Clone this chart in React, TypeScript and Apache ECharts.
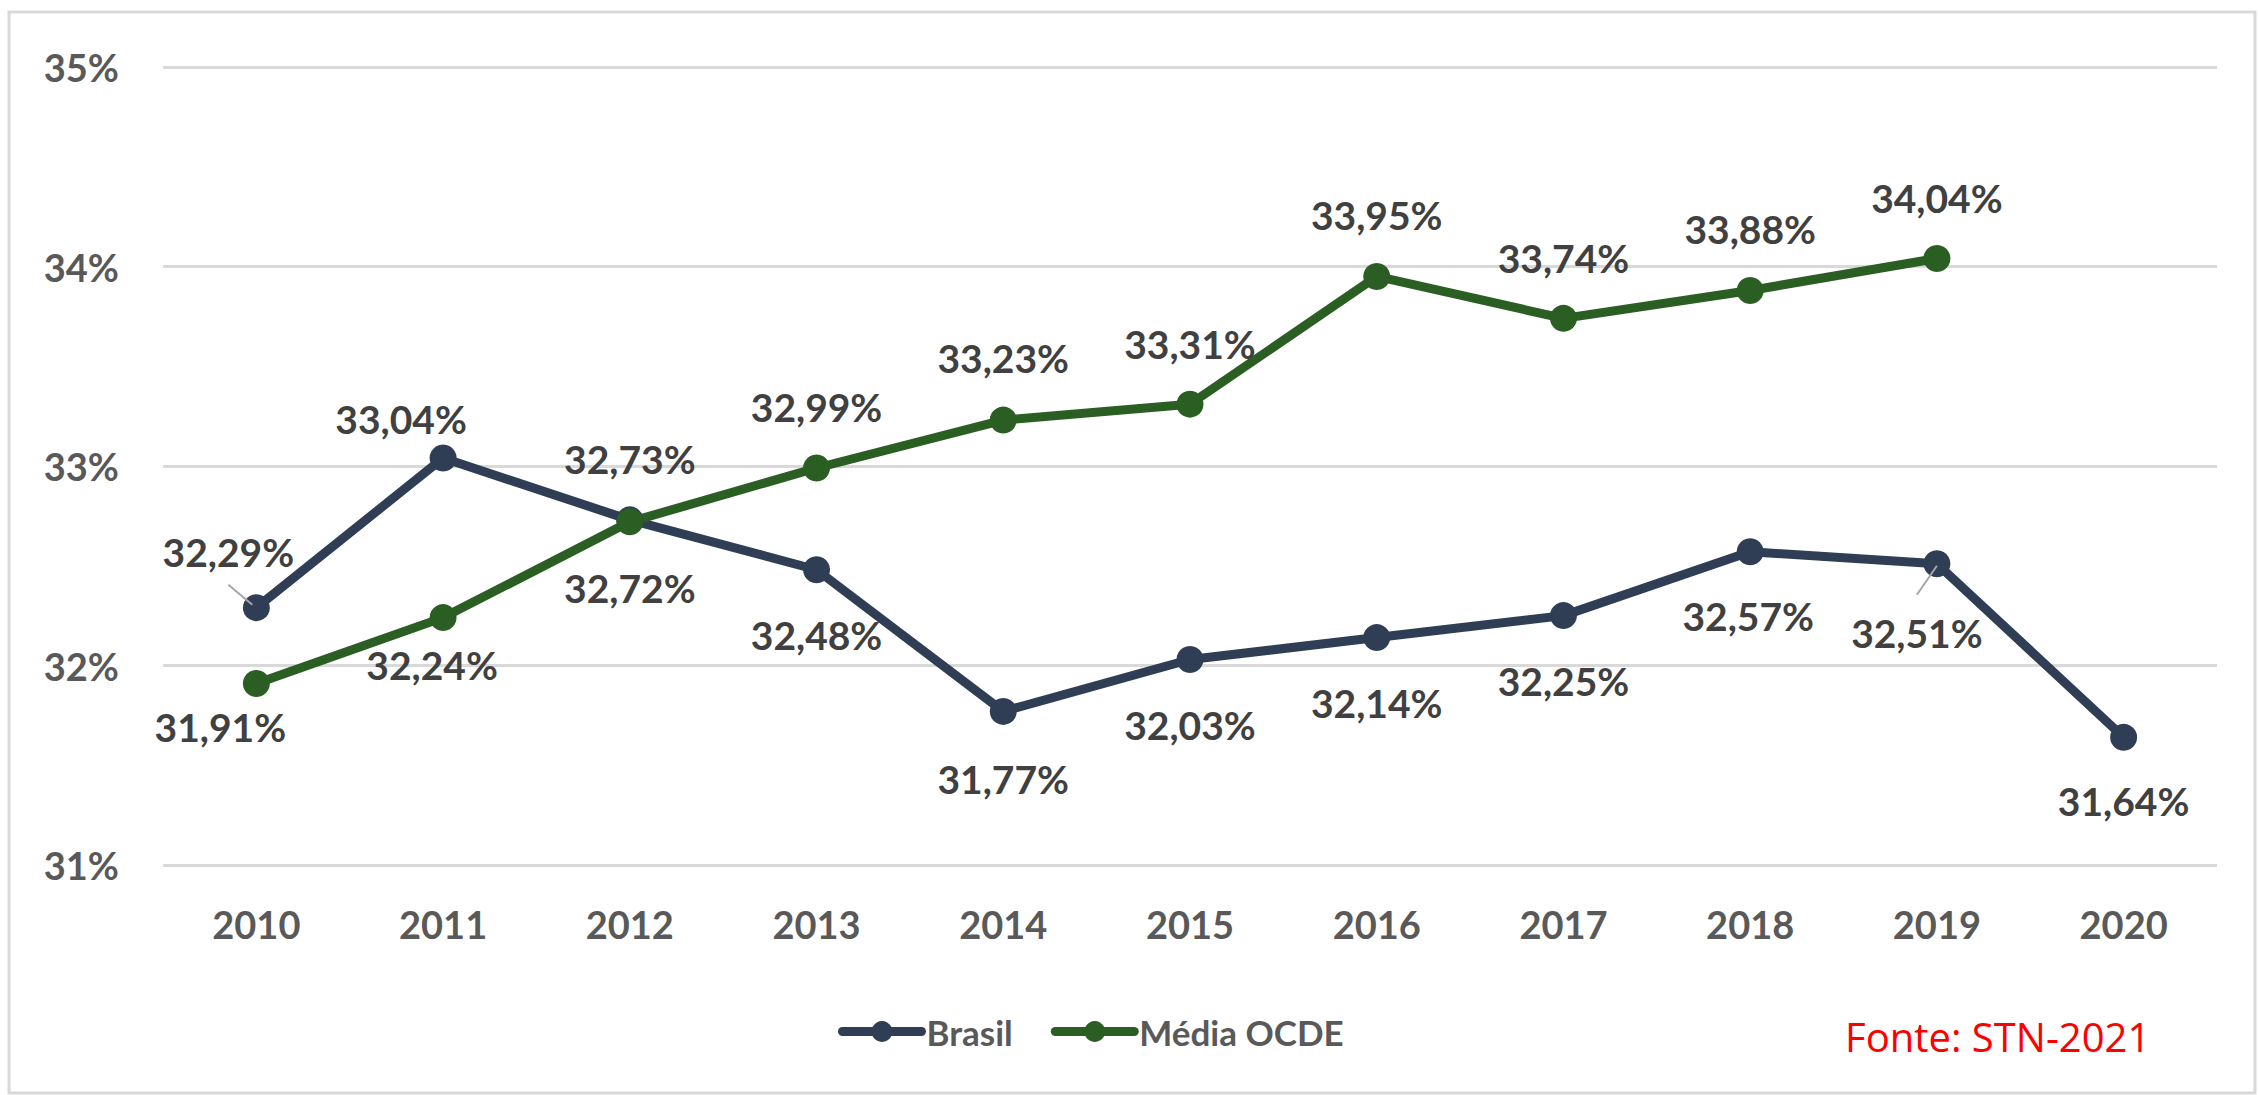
import React, { useEffect, useRef } from "react";
import * as echarts from "echarts";

const years = ["2010", "2011", "2012", "2013", "2014", "2015", "2016", "2017", "2018", "2019", "2020"];
const brasil = [32.29, 33.04, 32.73, 32.48, 31.77, 32.03, 32.14, 32.25, 32.57, 32.51, 31.64];
const ocde = [31.91, 32.24, 32.72, 32.99, 33.23, 33.31, 33.95, 33.74, 33.88, 34.04, null];
const seriesNames = ["Brasil", "Média OCDE"];
const yMin = 31;
const yMax = 35;
const yStep = 1;
const sourceText = "Fonte: STN-2021";

// label offsets (label centre relative to point)
const brasilLabelOffsets = [
  [-28, -56], [-42, -39], [0, -61], [0, 65], [0, 68], [0, 65], [0, 65], [0, 65], [-2, 64], [-20, 69], [0, 64],
];
const ocdeLabelOffsets = [
  [-36, 44], [-11, 47], [0, 66], [0, -61], [0, -62], [0, -60], [0, -61], [0, -60], [0, -61], [0, -61], [0, 0],
];
// leader lines: [index, dx1, dy1, dx2, dy2] relative to point
const brasilLeaders = [
  [0, -28, -23, -4, -3],
  [9, -20, 31, 0, 2],
];

const BRASIL_COLOR = "#2F3E55";
const OCDE_COLOR = "#2B5E23";
const FONT = "Lato";
const LINE_W = 9;

const fmt = (v: number) => v.toFixed(2).replace(".", ",") + "%";

export default function App() {
  const ref = useRef<HTMLDivElement>(null);
  useEffect(() => {
    const chart = echarts.init(ref.current!, undefined, { renderer: "svg" });
    const mk = (vals: (number | null)[], offs: number[][]) =>
      vals.map((v, i) => ({
        value: v,
        label: { offset: offs[i] },
      }));
    const labelStyle = {
      show: true,
      position: "inside",
      fontFamily: FONT,
      fontWeight: "bold",
      fontSize: 39,
      color: "#404040",
    };
    chart.setOption({
      animation: false,
      backgroundColor: "#ffffff",
      grid: { left: 163, right: 42, top: 67, bottom: 230 },
      legend: {
        left: 833,
        top: 1009,
        itemWidth: 79,
        itemHeight: 26,
        itemGap: 38,
        lineStyle: { width: 9, cap: "round" },
        textStyle: { fontFamily: FONT, fontWeight: "bold", fontSize: 35, color: "#595959" },
        data: seriesNames,
      },
      xAxis: {
        type: "category",
        data: years,
        boundaryGap: true,
        axisLine: { show: false },
        axisTick: { show: false },
        axisLabel: {
          margin: 40,
          fontFamily: FONT,
          fontWeight: "bold",
          fontSize: 38,
          color: "#595959",
        },
      },
      yAxis: {
        type: "value",
        min: yMin,
        max: yMax,
        interval: yStep,
        axisLine: { show: false },
        axisTick: { show: false },
        splitLine: { lineStyle: { color: "#D9D9D9", width: 3 } },
        axisLabel: {
          margin: 44,
          fontFamily: FONT,
          fontWeight: "bold",
          fontSize: 38,
          color: "#595959",
          formatter: (v: number) => `${v}%`,
        },
      },
      series: [
        {
          name: seriesNames[0],
          type: "line",
          data: mk(brasil, brasilLabelOffsets),
          symbol: "circle",
          symbolSize: 27,
          lineStyle: { width: LINE_W, color: BRASIL_COLOR, cap: "round" },
          itemStyle: { color: BRASIL_COLOR },
          label: { ...labelStyle, formatter: (p: any) => fmt(p.value) },
        },
        {
          name: seriesNames[1],
          type: "line",
          data: mk(ocde, ocdeLabelOffsets),
          symbol: "circle",
          symbolSize: 27,
          lineStyle: { width: LINE_W, color: OCDE_COLOR, cap: "round" },
          itemStyle: { color: OCDE_COLOR },
          label: { ...labelStyle, formatter: (p: any) => (p.value == null ? "" : fmt(p.value)) },
        },
      ],
    });

    const graphics: any[] = [
      {
        type: "rect",
        id: "border",
        shape: { x: 9, y: 12, width: 2246, height: 1081 },
        style: { fill: "none", stroke: "#D9D9D9", lineWidth: 3 },
        silent: true,
      },
      {
        type: "text",
        id: "source",
        x: 1845,
        y: 1036,
        style: {
          text: sourceText,
          fill: "#FF0000",
          fontSize: 40,
          fontFamily: "Open Sans",
          verticalAlign: "middle",
        },
      },
    ];
    brasilLeaders.forEach(([i, dx1, dy1, dx2, dy2], k) => {
      const p = chart.convertToPixel({ seriesIndex: 0 }, [i, brasil[i]]) as number[];
      graphics.push({
        type: "line",
        id: "leader" + k,
        z: 10,
        shape: { x1: p[0] + dx1, y1: p[1] + dy1, x2: p[0] + dx2, y2: p[1] + dy2 },
        style: { stroke: "#A6A6A6", lineWidth: 2 },
      });
    });
    chart.setOption({ graphic: graphics });

    return () => chart.dispose();
  }, []);
  return (
    <div
      ref={ref}
      style={{ position: "absolute", left: 0, top: 0, width: 2259, height: 1095 }}
    />
  );
}
